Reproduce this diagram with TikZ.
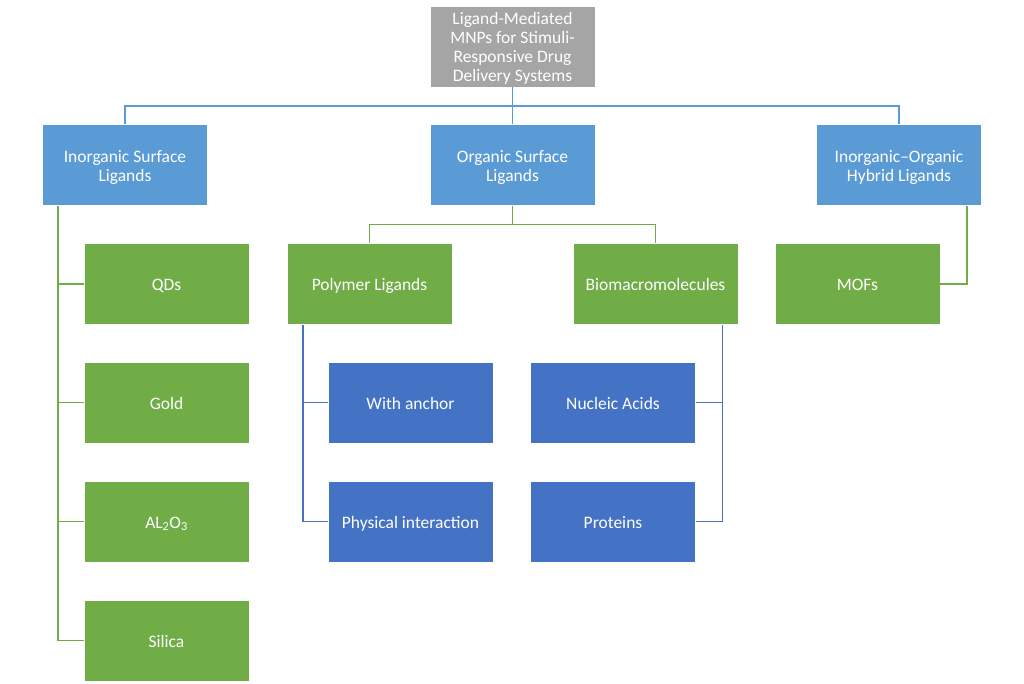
\documentclass[tikz,border=0pt]{standalone}
\usepackage{fontspec}
\setmainfont{Carlito}
\usetikzlibrary{calc}
\definecolor{cgray}{HTML}{A5A5A5}
\definecolor{cblue}{HTML}{5B9BD5}
\definecolor{cdblue}{HTML}{4472C4}
\definecolor{cgreen}{HTML}{70AD47}
\tikzset{
  boxbase/.style={draw=white, line width=0.8pt, text=white, align=center, inner sep=0pt,
    minimum width=165pt, minimum height=81pt, font=\fontsize{17.5}{19}\selectfont,
    execute at begin node=\rule{0pt}{18.8pt}, execute at end node=\strut},
  twolines/.style={execute at begin node=\rule{0pt}{38pt}},
  fourlines/.style={execute at begin node=\rule{0pt}{75pt}},
  graybox/.style={boxbase, fill=cgray},
  bluebox/.style={boxbase, fill=cblue},
  dbluebox/.style={boxbase, fill=cdblue},
  greenbox/.style={boxbase, fill=cgreen},
  bline/.style={draw=cblue, line width=1.8pt},
  gline/.style={draw=cgreen, line width=1.8pt},
  dline/.style={draw=cdblue, line width=1.8pt},
}
\begin{document}
\begin{tikzpicture}[x=1pt, y=-1pt]
\useasboundingbox (0,0) rectangle (1024,683);
\node[graybox, fourlines] (top) at (512.5,46.5) {Ligand-Mediated\\MNPs for Stimuli-\\Responsive Drug\\Delivery Systems};
\node[bluebox, twolines] (inorg) at (125,165) {Inorganic Surface\\Ligands};
\node[bluebox, twolines] (org) at (512.5,165) {Organic Surface\\Ligands};
\node[bluebox, twolines] (hyb) at (899,165) {Inorganic–Organic\\Hybrid Ligands};
\node[greenbox] (qds) at (166.5,284) {QDs};
\node[greenbox] (gold) at (166.5,402.5) {Gold};
\node[greenbox] (al) at (166.5,521.5) {AL\textsubscript{2}O\textsubscript{3}};
\node[greenbox] (silica) at (166.5,640.5) {Silica};
\node[greenbox] (poly) at (369.5,284) {Polymer Ligands};
\node[greenbox] (bio) at (655.5,284) {Biomacromolecules};
\node[greenbox] (mofs) at (857.5,284) {MOFs};
\node[dbluebox] (anchor) at (410.5,402.5) {With anchor};
\node[dbluebox] (phys) at (410.5,521.5) {Physical interaction};
\node[dbluebox] (nuc) at (613,402.5) {Nucleic Acids};
\node[dbluebox] (prot) at (613,521.5) {Proteins};
% level 1 connectors
\coordinate (m1) at ($(top.south)!0.5!(org.north)$);
\draw[bline] (top.south) -- (org.north);
\draw[bline] (inorg.north) |- (m1) -| (hyb.north);
% inorganic children
\coordinate (ti) at ([xshift=16pt]inorg.south west);
\foreach \n in {qds,gold,al,silica} \draw[gline] (ti) |- (\n.west);
% organic children
\coordinate (m2) at ($(org.south)!0.5!(org.south |- poly.north)$);
\draw[gline] (org.south) -- (m2);
\draw[gline] (poly.north) |- (m2) -| (bio.north);
% polymer children
\coordinate (tp) at ([xshift=16pt]poly.south west);
\foreach \n in {anchor,phys} \draw[dline] (tp) |- (\n.west);
% bio children
\coordinate (tb) at ([xshift=-16pt]bio.south east);
\foreach \n in {nuc,prot} \draw[dline] (tb) |- (\n.east);
% hybrid child
\coordinate (th) at ([xshift=-15pt]hyb.south east);
\draw[gline] (th) |- (mofs.east);
\end{tikzpicture}
\end{document}
